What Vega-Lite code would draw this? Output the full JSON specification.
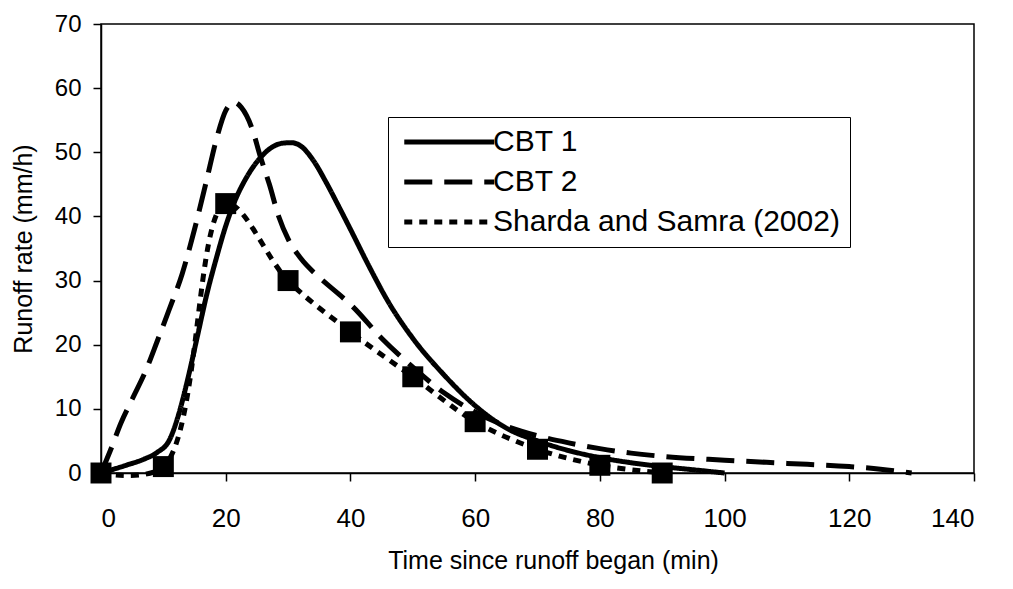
{
  "$schema": "https://vega.github.io/schema/vega-lite/v6.json",
  "width": 873,
  "height": 449,
  "autosize": {"type": "none"},
  "padding": {"left": 101, "top": 24, "right": 39, "bottom": 116},
  "background": "white",
  "config": {
    "font": "Liberation Sans",
    "view": {"stroke": "black", "strokeWidth": 1.5},
    "axis": {
      "domainColor": "black",
      "domainWidth": 1.5,
      "tickColor": "black",
      "tickWidth": 1.5,
      "tickSize": 8,
      "grid": false,
      "labelColor": "black",
      "labelFont": "Liberation Sans",
      "labelFontSize": 24,
      "titleColor": "black",
      "titleFont": "Liberation Sans",
      "titleFontSize": 25,
      "titleFontWeight": "normal"
    }
  },
  "data": {
    "values": [
      {"series": "CBT 1", "t": 0, "v": 0},
      {"series": "CBT 1", "t": 4, "v": 1.2},
      {"series": "CBT 1", "t": 7, "v": 2.2},
      {"series": "CBT 1", "t": 9, "v": 3.2},
      {"series": "CBT 1", "t": 11, "v": 5.2},
      {"series": "CBT 1", "t": 12.5, "v": 9.3},
      {"series": "CBT 1", "t": 14, "v": 15},
      {"series": "CBT 1", "t": 15.5, "v": 21.5},
      {"series": "CBT 1", "t": 17, "v": 28},
      {"series": "CBT 1", "t": 18.5, "v": 33.5},
      {"series": "CBT 1", "t": 20, "v": 38.5},
      {"series": "CBT 1", "t": 21.5, "v": 42.5},
      {"series": "CBT 1", "t": 23, "v": 45.5},
      {"series": "CBT 1", "t": 25, "v": 48.5},
      {"series": "CBT 1", "t": 27, "v": 50.5},
      {"series": "CBT 1", "t": 29, "v": 51.4},
      {"series": "CBT 1", "t": 30.5, "v": 51.5},
      {"series": "CBT 1", "t": 32, "v": 51},
      {"series": "CBT 1", "t": 34, "v": 48.8},
      {"series": "CBT 1", "t": 36, "v": 45.5},
      {"series": "CBT 1", "t": 38, "v": 41.8},
      {"series": "CBT 1", "t": 40, "v": 38},
      {"series": "CBT 1", "t": 43, "v": 32.2},
      {"series": "CBT 1", "t": 46, "v": 26.8},
      {"series": "CBT 1", "t": 50, "v": 21},
      {"series": "CBT 1", "t": 55, "v": 15.3},
      {"series": "CBT 1", "t": 60, "v": 10.5},
      {"series": "CBT 1", "t": 65, "v": 7},
      {"series": "CBT 1", "t": 70, "v": 5},
      {"series": "CBT 1", "t": 75, "v": 3.5},
      {"series": "CBT 1", "t": 80, "v": 2.4},
      {"series": "CBT 1", "t": 85, "v": 1.6},
      {"series": "CBT 1", "t": 90, "v": 1},
      {"series": "CBT 1", "t": 95, "v": 0.5},
      {"series": "CBT 1", "t": 100, "v": 0},
      {"series": "CBT 2", "t": 0, "v": 0},
      {"series": "CBT 2", "t": 1.5, "v": 3.5},
      {"series": "CBT 2", "t": 3.2, "v": 7.8},
      {"series": "CBT 2", "t": 5, "v": 11.5},
      {"series": "CBT 2", "t": 7.2, "v": 16},
      {"series": "CBT 2", "t": 9, "v": 20.5},
      {"series": "CBT 2", "t": 10.9, "v": 25.4},
      {"series": "CBT 2", "t": 13, "v": 31},
      {"series": "CBT 2", "t": 15, "v": 38},
      {"series": "CBT 2", "t": 16.9, "v": 45.5},
      {"series": "CBT 2", "t": 18.5, "v": 52},
      {"series": "CBT 2", "t": 20, "v": 56.5},
      {"series": "CBT 2", "t": 21.3, "v": 57.8},
      {"series": "CBT 2", "t": 22.5, "v": 57},
      {"series": "CBT 2", "t": 24.3, "v": 53.5},
      {"series": "CBT 2", "t": 25.5, "v": 49.5},
      {"series": "CBT 2", "t": 27, "v": 45},
      {"series": "CBT 2", "t": 28.5, "v": 40},
      {"series": "CBT 2", "t": 30, "v": 36.5},
      {"series": "CBT 2", "t": 32, "v": 33.5},
      {"series": "CBT 2", "t": 35, "v": 30.5},
      {"series": "CBT 2", "t": 38, "v": 28},
      {"series": "CBT 2", "t": 40.3, "v": 26},
      {"series": "CBT 2", "t": 45, "v": 21},
      {"series": "CBT 2", "t": 50, "v": 16.5},
      {"series": "CBT 2", "t": 55, "v": 12.5},
      {"series": "CBT 2", "t": 60, "v": 9.5},
      {"series": "CBT 2", "t": 65, "v": 7.3},
      {"series": "CBT 2", "t": 70, "v": 5.8},
      {"series": "CBT 2", "t": 75, "v": 4.7},
      {"series": "CBT 2", "t": 80, "v": 3.8},
      {"series": "CBT 2", "t": 85, "v": 3.1},
      {"series": "CBT 2", "t": 90, "v": 2.6},
      {"series": "CBT 2", "t": 100, "v": 2},
      {"series": "CBT 2", "t": 110, "v": 1.5},
      {"series": "CBT 2", "t": 120, "v": 1},
      {"series": "CBT 2", "t": 125, "v": 0.6},
      {"series": "CBT 2", "t": 130, "v": 0},
      {"series": "Sharda and Samra (2002)", "t": 0, "v": 0},
      {"series": "Sharda and Samra (2002)", "t": 10, "v": 1},
      {"series": "Sharda and Samra (2002)", "t": 20, "v": 42},
      {"series": "Sharda and Samra (2002)", "t": 30, "v": 30},
      {"series": "Sharda and Samra (2002)", "t": 40, "v": 22},
      {"series": "Sharda and Samra (2002)", "t": 50, "v": 15},
      {"series": "Sharda and Samra (2002)", "t": 60, "v": 8},
      {"series": "Sharda and Samra (2002)", "t": 70, "v": 3.7},
      {"series": "Sharda and Samra (2002)", "t": 80, "v": 1.2},
      {"series": "Sharda and Samra (2002)", "t": 90, "v": 0}
    ]
  },
  "encoding": {
    "x": {
      "field": "t",
      "type": "quantitative",
      "scale": {"domain": [0, 140], "nice": false, "zero": false},
      "axis": {
        "values": [0, 20, 40, 60, 80, 100, 120, 140],
        "labelPadding": 24,
        "labelFontSize": 26,
        "title": "Time since runoff began (min)",
        "titleX": 452,
        "titleY": 95,
        "titleBaseline": "alphabetic",
        "titleAlign": "center",
        "titleAnchor": null
      }
    },
    "y": {
      "field": "v",
      "type": "quantitative",
      "scale": {"domain": [0, 70], "nice": false},
      "axis": {
        "values": [0, 10, 20, 30, 40, 50, 60, 70],
        "labelPadding": 12,
        "title": "Runoff rate (mm/h)",
        "titleX": -70,
        "titleBaseline": "alphabetic"
      }
    }
  },
  "layer": [
    {
      "transform": [{"filter": "datum.series === 'CBT 1'"}],
      "mark": {"type": "line", "interpolate": "monotone", "strokeWidth": 5, "color": "black", "strokeCap": "butt"},
      "encoding": {
        "strokeDash": {
          "field": "series",
          "type": "nominal",
          "scale": {
            "domain": ["CBT 1", "CBT 2", "Sharda and Samra (2002)"],
            "range": [[1, 0], [28, 12], [8, 7]]
          },
          "legend": {
            "title": null,
            "orient": "none",
            "legendX": 287,
            "legendY": 93,
            "symbolType": "M-7,0H1",
            "symbolSize": 506,
            "symbolStrokeWidth": 5,
            "symbolStrokeColor": "black",
            "symbolOffset": 70,
            "labelOffset": -5,
            "labelFont": "Liberation Sans",
            "labelFontSize": 30,
            "labelColor": "black",
            "labelLimit": 500,
            "strokeColor": "black",
            "fillColor": "white",
            "padding": 10,
            "rowPadding": 10
          }
        }
      }
    },
    {
      "transform": [{"filter": "datum.series === 'CBT 2'"}],
      "mark": {"type": "line", "interpolate": "monotone", "strokeWidth": 5, "color": "black", "strokeCap": "butt"},
      "encoding": {
        "strokeDash": {"field": "series", "type": "nominal"}
      }
    },
    {
      "transform": [{"filter": "datum.series === 'Sharda and Samra (2002)'"}],
      "mark": {"type": "line", "interpolate": "catmull-rom", "strokeWidth": 5, "color": "black", "strokeCap": "butt"},
      "encoding": {
        "strokeDash": {"field": "series", "type": "nominal"}
      }
    },
    {
      "transform": [{"filter": "datum.series === 'Sharda and Samra (2002)'"}],
      "mark": {"type": "point", "shape": "square", "filled": true, "size": 440, "color": "black", "opacity": 1}
    }
  ]
}
